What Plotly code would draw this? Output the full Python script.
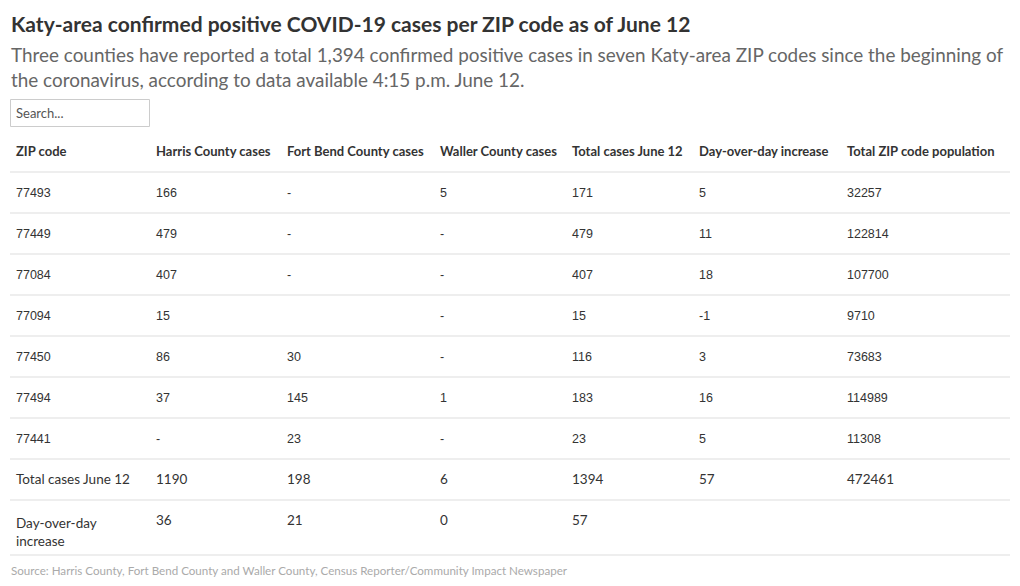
import plotly.graph_objects as go

title = "Katy-area confirmed positive COVID-19 cases per ZIP code as of June 12"
subtitle = ("Three counties have reported a total 1,394 confirmed positive cases in seven Katy-area ZIP codes since the beginning of"
            "<br>the coronavirus, according to data available 4:15 p.m. June 12.")
source = "Source: Harris County, Fort Bend County and Waller County, Census Reporter/Community Impact Newspaper"

headers = ["ZIP code", "Harris County cases", "Fort Bend County cases", "Waller County cases",
           "Total cases June 12", "Day-over-day increase", "Total ZIP code population"]
zip_codes = ["77493", "77449", "77084", "77094", "77450", "77494", "77441", "Total cases June 12", "Day-over-day<br>increase"]
harris = ["166", "479", "407", "15", "86", "37", "-", "1190", "36"]
fort_bend = ["-", "-", "-", "", "30", "145", "23", "198", "21"]
waller = ["5", "-", "-", "-", "-", "1", "-", "6", "0"]
total = ["171", "479", "407", "15", "116", "183", "23", "1394", "57"]
day_over_day = ["5", "11", "18", "-1", "3", "16", "5", "57", ""]
population = ["32257", "122814", "107700", "9710", "73683", "114989", "11308", "472461", ""]

W, H = 1020, 586
OFF = 8  # page body margin
FONT = "Lato, Source Sans Pro, sans-serif"
NUMFONT = "Liberation Sans, Arial, sans-serif"
col_widths = [140, 131, 153, 132, 127, 148, 168]
row_h = 41
pad = 8


def px(x):
    return (x - OFF) / W


def py(y):
    return 1 - (y - OFF) / H


columns = [zip_codes, harris, fort_bend, waller, total, day_over_day, population]
n_rows = len(zip_codes)
n_main = n_rows - 2

x_start = 16 - pad
xdom = [px(x_start), px(x_start + sum(col_widths))]
noline = dict(color="white", width=0)

tbl_top = 135
hdr_h = 45
main_bottom = tbl_top + hdr_h + n_main * row_h

fig = go.Figure()
fig.add_trace(go.Table(
    columnwidth=col_widths,
    domain=dict(x=xdom, y=[py(main_bottom), py(tbl_top)]),
    header=dict(values=["<b>%s</b>" % h.replace(" ", "\u00a0") for h in headers], height=hdr_h, align="left",
                fill_color="white", line=noline,
                font=dict(family=FONT, size=13, color="#333333")),
    cells=dict(values=[c[:n_main] for c in columns], height=row_h, align="left", fill_color="white",
               line=noline, font=dict(family=NUMFONT, size=12.5, color="#333333")),
))
# summary rows (totals and day-over-day increase)
sum_top = main_bottom - 1
fig.add_trace(go.Table(
    columnwidth=col_widths,
    domain=dict(x=xdom, y=[0.0, py(sum_top)]),
    header=dict(values=[c[n_main].replace(" ", "\u00a0") for c in columns], height=row_h, align="left",
                fill_color="white", line=noline,
                font=dict(family=FONT, size=13.5, color="#333333")),
    cells=dict(values=[[c[n_main + 1]] for c in columns], height=row_h, align="left", fill_color="white",
               line=noline, font=dict(family=FONT, size=13.5, color="#333333")),
))

shapes = []
line_ys = [172 + row_h * i for i in range(n_rows)]
line_ys.append(line_ys[-1] + 55)
for yb in line_ys:
    shapes.append(dict(type="line", xref="paper", yref="paper", x0=px(10), x1=px(1010),
                       y0=py(yb), y1=py(yb), line=dict(color="#dddddd", width=1)))
# search box
shapes.append(dict(type="rect", xref="paper", yref="paper", x0=px(10.5), x1=px(149.5),
                   y0=py(126.5), y1=py(99.5), line=dict(color="#cccccc", width=1), fillcolor="white"))

annotations = [
    dict(text="<b>%s</b>" % title, x=px(9), y=py(23), xref="paper", yref="paper", xanchor="left",
         yanchor="middle", showarrow=False, font=dict(family=FONT, size=21, color="#333333")),
    dict(text=subtitle, x=px(9), y=py(41), xref="paper", yref="paper", xanchor="left", yanchor="top",
         align="left", showarrow=False, font=dict(family=FONT, size=18.9, color="#666666")),
    dict(text="Search...", x=px(14), y=py(113), xref="paper", yref="paper", xanchor="left",
         yanchor="middle", showarrow=False, font=dict(family=FONT, size=13, color="#555555")),
    dict(text=source, x=px(9), y=py(570), xref="paper", yref="paper", xanchor="left",
         yanchor="middle", showarrow=False, font=dict(family=FONT, size=11.6, color="#aaaaaa")),
]

fig.update_layout(width=W, height=H, margin=dict(l=0, r=0, t=0, b=0), paper_bgcolor="white",
                  plot_bgcolor="white", shapes=shapes, annotations=annotations)
fig.write_html("out.html")
